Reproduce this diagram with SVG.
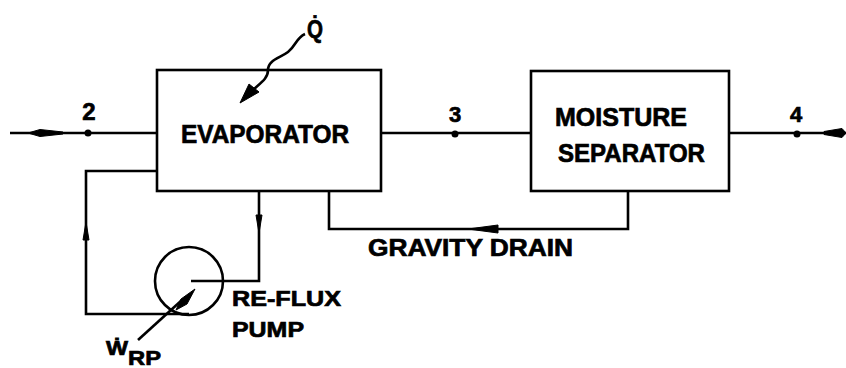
<svg xmlns="http://www.w3.org/2000/svg" width="846" height="368" viewBox="0 0 846 368">
<style>
.ln{fill:none;stroke:#000;stroke-width:2.6;stroke-linejoin:miter}
.box{fill:none;stroke:#000;stroke-width:2.6}
.ah{fill:#000;stroke:#000;stroke-width:1}
.t{font-family:"Liberation Sans",Arial,sans-serif;font-weight:bold;fill:#000;stroke:#000;stroke-width:0.7}
</style>
<rect width="846" height="368" fill="#fff"/>
<g id="evaporator">
  <rect class="box" x="157" y="70" width="224" height="121"/>
  <text class="t" x="181" y="143" font-size="26" textLength="168" lengthAdjust="spacingAndGlyphs">EVAPORATOR</text>
</g>
<g id="moisture-separator">
  <rect class="box" x="531" y="71" width="198" height="120"/>
  <text class="t" x="555" y="126" font-size="26" textLength="132" lengthAdjust="spacingAndGlyphs">MOISTURE</text>
  <text class="t" x="558" y="162" font-size="26" textLength="147" lengthAdjust="spacingAndGlyphs">SEPARATOR</text>
</g>
<g id="pump">
  <circle class="box" cx="189" cy="281" r="34"/>
  <text class="t" x="232" y="306" font-size="22" textLength="109" lengthAdjust="spacingAndGlyphs">RE-FLUX</text>
  <text class="t" x="232" y="337" font-size="22" textLength="72" lengthAdjust="spacingAndGlyphs">PUMP</text>
</g>
<g id="connectors">
  <path class="ln" d="M10,133 H157"/>
  <polygon class="ah" points="28,133 40,129.5 63,132 63,134 40,136.5"/>
  <path class="ln" d="M381,133 H531"/>
  <path class="ln" d="M729,133 H846"/>
  <polygon class="ah" points="824,131.5 842,128.5 846,133 842,137.5 824,134.5"/>
  <circle cx="88" cy="133" r="3.5"/>
  <circle cx="455" cy="134" r="3.5"/>
  <circle cx="797" cy="134" r="3.5"/>
  <path class="ln" d="M157,171 H86 V314 H189"/>
  <polygon class="ah" points="86,222 89,240 83,240"/>
  <path class="ln" d="M191,281 H259 V191"/>
  <polygon class="ah" points="259,233 256,215 262,215"/>
  <path class="ln" d="M329,191 V229 H628 V191"/>
  <polygon class="ah" points="468,229 498,225 498,233"/>
  <path class="ln" d="M305,34 C296,38 296,46 288,52 C280,58 268,60 268,70 C268,78 262,82 254,89"/>
  <polygon class="ah" points="240,103 249,84 259,92"/>
  <path class="ln" d="M138,340 L182,300"/>
  <polygon class="ah" points="195,289 187,304 176,310 181,299"/>
</g>
<g id="labels">
  <text class="t" x="89" y="120" font-size="24" text-anchor="middle">2</text>
  <text class="t" x="455" y="122" font-size="22" text-anchor="middle">3</text>
  <text class="t" x="796" y="122" font-size="22" text-anchor="middle">4</text>
  <text class="t" x="307" y="38" font-size="25" textLength="16" lengthAdjust="spacingAndGlyphs">Q̇</text>
  <text class="t" x="368" y="256" font-size="24" textLength="205" lengthAdjust="spacingAndGlyphs">GRAVITY  DRAIN</text>
  <text class="t" x="106" y="355" font-size="20"><tspan textLength="22" lengthAdjust="spacingAndGlyphs">Ẇ</tspan><tspan font-size="20" dy="10" textLength="33" lengthAdjust="spacingAndGlyphs">RP</tspan></text>
</g>
</svg>
